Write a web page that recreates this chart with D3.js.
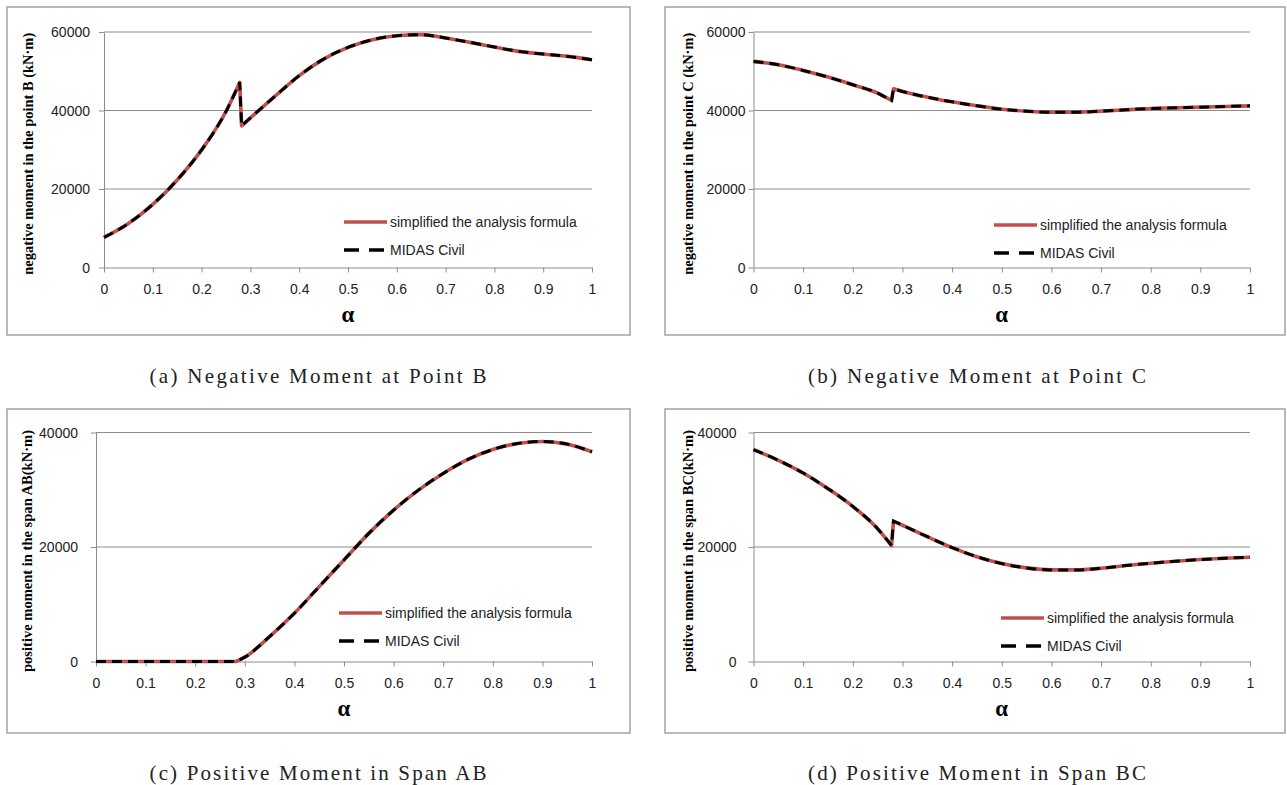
<!DOCTYPE html>
<html>
<head>
<meta charset="utf-8">
<script src="https://cdn.jsdelivr.net/npm/d3@7"></script>
<style>
  body { margin: 0; background: #fff; }
  svg { display: block; }
</style>
</head>
<body>
<svg width="1287" height="785"></svg>
<script>
// alpha values (x) shared by all four panels
var alpha = [0, 0.05, 0.1, 0.15, 0.2, 0.25, 0.278, 0.282, 0.3, 0.35, 0.4, 0.45, 0.5,
             0.55, 0.6, 0.65, 0.7, 0.75, 0.8, 0.85, 0.9, 0.95, 1];
// index where the jump happens (between alpha 0.278 and 0.282)
var jumpAt = 7;

// (a) negative moment at point B
var negB = [7660, 11230, 16085, 22300, 29960, 39745, 47150, 36085, 38100, 43600, 48900, 53100, 56085,
            58040, 59060, 59320, 58470, 57360, 56170, 55060, 54380, 53790, 52940];
// (b) negative moment at point C
var negC = [52510, 51660, 50210, 48510, 46550, 44430, 42550, 45530, 44850, 43400, 42210, 41190, 40340,
            39830, 39570, 39570, 39830, 40170, 40510, 40680, 40850, 41020, 41190];
// (c) positive moment in span AB
var posAB = [0, 0, 0, 0, 0, 0, 0, 0, 756, 4360, 8430, 13080, 17730,
             22380, 26450, 29940, 32850, 35290, 37030, 38080, 38430, 37970, 36630];
// (d) positive moment in span BC
var posBC = [37020, 35150, 32930, 30190, 27090, 23200, 20260, 24530, 23800, 21800, 19900, 18300, 17100,
             16350, 16000, 16000, 16290, 16760, 17170, 17520, 17810, 18040, 18220];

var xTicks = [0, 0.1, 0.2, 0.3, 0.4, 0.5, 0.6, 0.7, 0.8, 0.9, 1];
var xTickLabels = ["0", "0.1", "0.2", "0.3", "0.4", "0.5", "0.6", "0.7", "0.8", "0.9", "1"];
var yTicksNeg = [0, 20000, 40000, 60000];
var yTicksPos = [0, 20000, 40000];
var seriesNames = ["simplified the analysis formula", "MIDAS Civil"];
var captions = ["(a) Negative Moment at Point B", "(b) Negative Moment at Point C",
                "(c) Positive Moment in Span AB", "(d) Positive Moment in Span BC"];
var yTitles = ["negative moment in the point B (kN\u00b7m)", "negative moment in the point C (kN\u00b7m)",
               "positive moment in the span AB(kN\u00b7m)", "positive moment in the span BC(kN\u00b7m)"];

var svg = d3.select("svg");

var panels = [
  { vals: negB, yMax: 60000, yt: yTicksNeg, frame: [7, 7, 630, 335], plot: [104, 32, 592, 267.5], pad: 9,
    ytx: 28, leg: [344, 222], cap: [318, 382.5], capLen: 337 },
  { vals: negC, yMax: 60000, yt: yTicksNeg, frame: [665, 7, 1285, 335], plot: [753.5, 32, 1250, 267.5], pad: 3,
    ytx: 688, leg: [994, 225], cap: [977, 382.5], capLen: 338 },
  { vals: posAB, yMax: 40000, yt: yTicksPos, frame: [7, 409, 630, 733], plot: [96, 432.5, 592, 661.5], pad: 13,
    ytx: 27, leg: [339, 613], cap: [318, 779.5], capLen: 337 },
  { vals: posBC, yMax: 40000, yt: yTicksPos, frame: [665, 409, 1285, 733], plot: [753.5, 432.5, 1250, 661.5], pad: 12,
    ytx: 688, leg: [1001, 618], cap: [977, 779.5], capLen: 338 }
];

panels.forEach(function(p, k) {
  var f = p.frame, pl = p.plot;
  svg.append("rect")
    .attr("x", f[0]).attr("y", f[1])
    .attr("width", f[2] - f[0]).attr("height", f[3] - f[1])
    .attr("fill", "#fff").attr("stroke", "#8c8c8c").attr("stroke-width", 1.2);

  var x = d3.scaleLinear().domain([0, 1]).range([pl[0], pl[2]]);
  var y = d3.scaleLinear().domain([0, p.yMax]).range([pl[3], pl[1]]);

  // gridlines
  svg.append("g").selectAll("line").data(p.yt.filter(function(d) { return d > 0; })).enter()
    .append("line")
    .attr("x1", pl[0]).attr("x2", pl[2])
    .attr("y1", function(d) { return y(d); }).attr("y2", function(d) { return y(d); })
    .attr("stroke", "#8c8c8c").attr("stroke-width", 1);

  var gx = svg.append("g").attr("transform", "translate(0," + pl[3] + ")")
    .call(d3.axisBottom(x).tickValues(xTicks).tickSize(5).tickSizeOuter(0).tickPadding(12)
      .tickFormat(function(d, i) { return xTickLabels[i]; }));
  var gy = svg.append("g").attr("transform", "translate(" + pl[0] + ",0)")
    .call(d3.axisLeft(y).tickValues(p.yt).tickSize(5).tickSizeOuter(0).tickPadding(p.pad)
      .tickFormat(function(d) { return String(d); }));
  [gx, gy].forEach(function(g) {
    g.select(".domain").attr("stroke", "#8c8c8c");
    g.selectAll(".tick line").attr("stroke", "#8c8c8c");
    g.selectAll("text").attr("fill", "#222")
      .style("font-family", "'Liberation Sans', Arial, sans-serif").style("font-size", "14px");
  });
  gy.selectAll("text").attr("dy", "0.35em");

  // curves: smooth on each side of the jump, straight drop at the jump
  var pts = p.vals.map(function(v, i) { return [alpha[i], v]; });
  var line = d3.line()
    .x(function(d) { return x(d[0]); })
    .y(function(d) { return y(d[1]); })
    .curve(d3.curveMonotoneX);
  var before = line(pts.slice(0, jumpAt));
  var after = line(pts.slice(jumpAt)).replace(/^M/, "L");
  var dPath = before + after;

  svg.append("path").attr("d", dPath)
    .attr("fill", "none").attr("stroke", "#c0504d").attr("stroke-width", 3.6)
    .attr("stroke-linejoin", "round");
  svg.append("path").attr("d", dPath)
    .attr("fill", "none").attr("stroke", "#000").attr("stroke-width", 3)
    .attr("stroke-dasharray", "10,6");

  // legend
  var lg = svg.append("g").attr("transform", "translate(" + p.leg[0] + "," + p.leg[1] + ")");
  lg.append("line").attr("x1", 0).attr("x2", 43).attr("y1", 0).attr("y2", 0)
    .attr("stroke", "#c0504d").attr("stroke-width", 3.6);
  lg.append("line").attr("x1", 0).attr("x2", 40).attr("y1", 28).attr("y2", 28)
    .attr("stroke", "#000").attr("stroke-width", 3.6).attr("stroke-dasharray", "15,10");
  lg.selectAll("text").data(seriesNames).enter().append("text")
    .attr("x", 46).attr("y", function(d, i) { return i * 28; }).attr("dy", "0.35em")
    .attr("fill", "#222")
    .style("font-family", "'Liberation Sans', Arial, sans-serif").style("font-size", "14px")
    .text(function(d) { return d; });

  // axis titles
  svg.append("text")
    .attr("transform", "translate(" + p.ytx + "," + ((pl[1] + pl[3]) / 2 + 4) + ") rotate(-90)")
    .attr("text-anchor", "middle").attr("dy", "0.35em")
    .attr("textLength", 242).attr("lengthAdjust", "spacingAndGlyphs")
    .style("font-family", "'Liberation Serif', 'Times New Roman', serif")
    .style("font-size", "14px").style("font-weight", "bold")
    .text(yTitles[k]);
  svg.append("text")
    .attr("x", (pl[0] + pl[2]) / 2).attr("y", pl[3] + 54)
    .attr("text-anchor", "middle")
    .style("font-family", "'Liberation Serif', 'Times New Roman', serif")
    .style("font-size", "23px").style("font-weight", "bold")
    .text("\u03b1");

  // caption
  svg.append("text")
    .attr("x", p.cap[0]).attr("y", p.cap[1])
    .attr("text-anchor", "middle")
    .attr("textLength", p.capLen).attr("lengthAdjust", "spacing")
    .attr("fill", "#222")
    .style("font-family", "'Liberation Serif', 'Times New Roman', serif")
    .style("font-size", "21px")
    .text(captions[k]);
});
</script>
</body>
</html>
